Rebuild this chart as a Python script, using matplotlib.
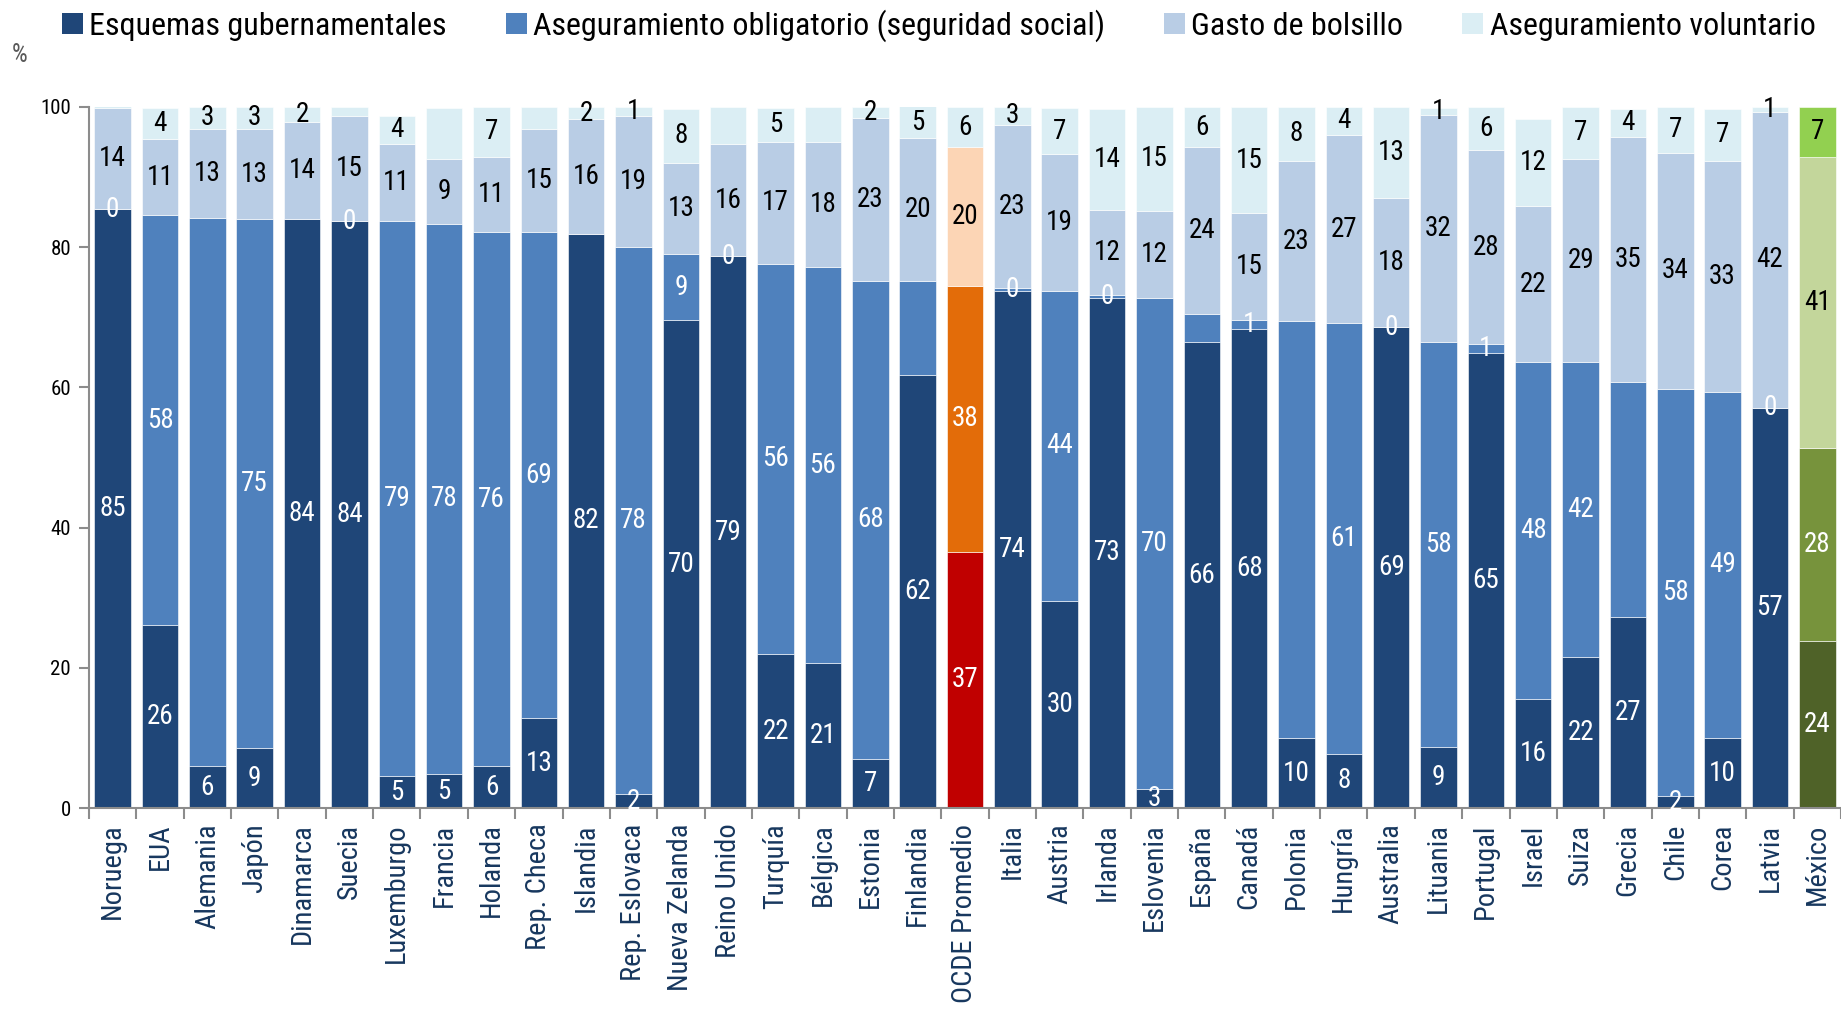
"""Composición del gasto en salud por esquema de financiamiento (% del gasto total), OCDE y México."""
import numpy as np
import matplotlib
matplotlib.use("Agg")
import matplotlib.pyplot as plt
from matplotlib.patches import Patch

NARROW = ["Roboto Condensed", "PT Sans Narrow", "Archivo Narrow", "Liberation Sans"]
plt.rcParams.update({"font.family": NARROW})

paises = ["Noruega", "EUA", "Alemania", "Japón", "Dinamarca", "Suecia", "Luxemburgo", "Francia",
          "Holanda", "Rep. Checa", "Islandia", "Rep. Eslovaca", "Nueva Zelanda", "Reino Unido",
          "Turquía", "Bélgica", "Estonia", "Finlandia", "OCDE Promedio", "Italia", "Austria",
          "Irlanda", "Eslovenia", "España", "Canadá", "Polonia", "Hungría", "Australia",
          "Lituania", "Portugal", "Israel", "Suiza", "Grecia", "Chile", "Corea", "Latvia", "México"]

gubernamental = [85.4, 26.1, 6.0, 8.6, 84.0, 83.7, 4.6, 4.9, 6.0, 12.9, 81.9, 2.0, 69.6, 78.7,
                 22.0, 20.7, 7.0, 61.7, 36.6, 73.8, 29.6, 72.8, 2.8, 66.4, 68.3, 10.0, 7.8, 68.6,
                 8.7, 64.9, 15.6, 21.6, 27.2, 1.7, 10.0, 57.1, 23.8]
obligatorio = [0.0, 58.4, 78.2, 75.4, 0.0, 0.0, 79.1, 78.4, 76.1, 69.2, 0.0, 78.0, 9.4, 0.0,
               55.6, 56.4, 68.2, 13.5, 37.8, 0.4, 44.2, 0.4, 70.0, 4.0, 1.3, 59.4, 61.3, 0.0,
               57.7, 1.3, 48.0, 42.0, 33.6, 58.1, 49.4, 0.0, 27.6]
bolsillo = [14.4, 10.9, 12.6, 12.8, 13.8, 15.0, 11.0, 9.3, 10.7, 14.7, 16.4, 18.7, 13.0, 16.0,
            17.4, 17.9, 23.2, 20.3, 19.8, 23.2, 19.4, 12.1, 12.3, 23.8, 15.2, 22.9, 26.9, 18.4,
            32.4, 27.6, 22.2, 29.0, 34.9, 33.6, 32.9, 42.2, 41.4]
voluntario = [0.3, 4.4, 3.2, 3.2, 2.2, 1.3, 4.0, 7.2, 7.2, 3.2, 1.6, 1.3, 7.7, 5.3,
              4.8, 5.0, 1.6, 4.6, 5.8, 2.6, 6.6, 14.4, 14.9, 5.8, 15.2, 7.7, 4.0, 13.0,
              1.0, 6.2, 12.4, 7.4, 4.0, 6.6, 7.4, 0.7, 7.2]

series = ["Esquemas gubernamentales", "Aseguramiento obligatorio (seguridad social)",
          "Gasto de bolsillo", "Aseguramiento voluntario"]
# segmentos que en el original no llevan etiqueta
sin_etiqueta = {1: ["Alemania", "Dinamarca", "Islandia", "Finlandia", "España", "Polonia", "Grecia"],
                3: ["Noruega", "Suecia", "Francia", "Rep. Checa", "Reino Unido", "Bélgica"]}

AZULES = ["#1f4678", "#4f81bd", "#b9cde5", "#dbeef4"]
OCDE = ["#c00000", "#e36c09", "#fcd5b5", "#dbeef4"]
MEXICO = ["#4f6228", "#77933c", "#c3d69b", "#92d050"]
TXT = ["white", "white", "black", "black"]
GRIS = "#8c8c8c"

fig = plt.figure(figsize=(18.41, 10.09), dpi=100)
ax = fig.add_axes([89 / 1841, 1 - 808.3 / 1009, 1752 / 1841, 701.6 / 1009])

n = len(paises)
x = np.arange(n)
base = np.zeros(n)
for k, vals in enumerate([gubernamental, obligatorio, bolsillo, voluntario]):
    vals = np.array(vals)
    cols = [OCDE[k] if p == "OCDE Promedio" else MEXICO[k] if p == "México" else AZULES[k] for p in paises]
    ax.bar(x, vals, bottom=base, width=0.77, color=cols, edgecolor="white", linewidth=0.4, zorder=2)
    for i, v in enumerate(vals):
        if paises[i] in sin_etiqueta.get(k, []):
            continue
        ax.text(x[i], base[i] + v / 2, f"{round(v)}", ha="center", va="center",
                fontsize=19.5, color=TXT[k], zorder=3)
    base += vals

ax.set_xlim(-0.5, n - 0.5)
ax.set_ylim(0, 100)
ax.set_yticks(range(0, 101, 20))
ax.tick_params(axis="y", direction="out", length=7, width=1.5, color=GRIS, labelsize=15, pad=6)
ax.set_xticks(x)
ax.set_xticklabels(paises, rotation=90, va="top", ha="center", fontsize=20.5, color="#17375e")
ax.tick_params(axis="x", which="major", length=0, pad=11)
ax.set_xticks(np.arange(-0.5, n), minor=True)
ax.tick_params(axis="x", which="minor", direction="out", length=8, width=1.5, color=GRIS)
for s in ("top", "right"):
    ax.spines[s].set_visible(False)
for s in ("left", "bottom"):
    ax.spines[s].set_color(GRIS)
    ax.spines[s].set_linewidth(1.5)

fig.text(20 / 1841, 1 - 55 / 1009, "%", fontsize=18, color="#595959", ha="center", va="center")

handles = [Patch(facecolor=c, edgecolor="none") for c in AZULES]
fig.legend(handles, series, loc="center left", bbox_to_anchor=(62 / 1841, 1 - 26 / 1009),
           ncol=4, frameon=False, fontsize=23, handlelength=0.65, handleheight=0.65,
           handletextpad=0.2, columnspacing=1.85, borderaxespad=0, borderpad=0)

fig.savefig("out.png", dpi=100)
